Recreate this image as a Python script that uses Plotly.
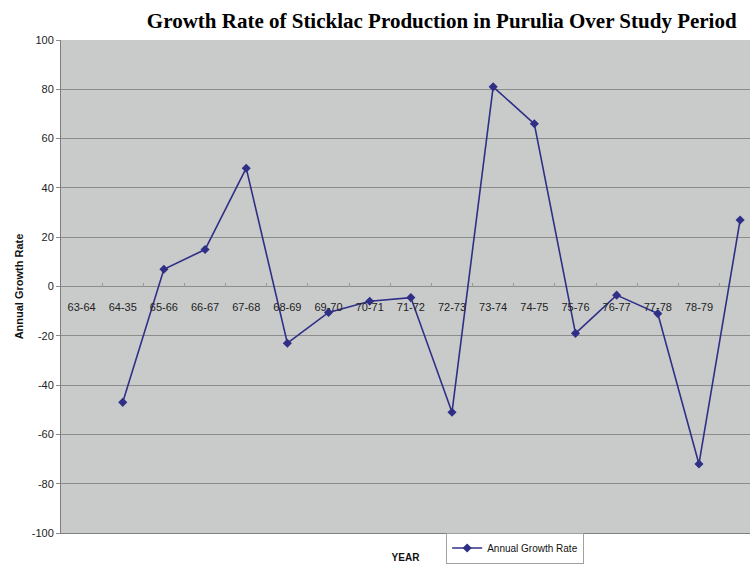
import plotly.graph_objects as go

# Financial years (category labels along the zero line)
years = ["63-64", "64-35", "65-66", "66-67", "67-68", "68-69", "69-70", "70-71",
         "71-72", "72-73", "73-74", "74-75", "75-76", "76-77", "77-78", "78-79", "79-80"]

# Annual growth rate of sticklac production (%); no rate for the base year
growth = [None, -47, 7, 15, 48, -23, -10.5, -6, -4.5, -51, 81, 66, -19, -3.5, -11, -72, 27]

y_ticks = [-100, -80, -60, -40, -20, 0, 20, 40, 60, 80, 100]
y_tick_text = ["-100", "-80", "-60", "-40", "-20", "0", "20", "40", "60", "80", "100"]

idx = list(range(len(years)))
x_range = [-0.5, len(years) - 0.76]
line_color = "#2f2f86"
font_sans = "Liberation Sans, Arial, sans-serif"

fig = go.Figure()
fig.add_trace(go.Scatter(
    x=idx, y=growth, mode="lines+markers", name="Annual Growth Rate",
    connectgaps=False,
    line=dict(color=line_color, width=1.6),
    marker=dict(symbol="diamond", size=7, color=line_color),
))

fig.update_layout(
    width=750, height=567,
    margin=dict(l=61, r=0, t=40, b=34, autoexpand=False),
    paper_bgcolor="white",
    plot_bgcolor="#c9cbcb",
    title=dict(
        text="<b>Growth Rate of Sticklac Production in Purulia Over Study Period</b>",
        x=0.589, xanchor="center", xref="container",
        y=0.963, yanchor="middle", yref="container",
        font=dict(family="Liberation Serif, Times New Roman, serif", size=21, color="black"),
    ),
    xaxis=dict(
        range=x_range, showticklabels=False, ticks="", showgrid=False,
        zeroline=False, showline=True, linecolor="#7f7f7f", linewidth=1,
        title=dict(text="<b>YEAR</b>", standoff=20,
                   font=dict(family=font_sans, size=10, color="#111")),
    ),
    xaxis2=dict(
        overlaying="x", anchor="free", position=0.5, side="bottom",
        range=x_range, tickmode="array", tickvals=idx, ticktext=years,
        ticks="inside", ticklen=0, ticklabelstandoff=12,
        showgrid=False, zeroline=False, showline=False,
        tickfont=dict(family=font_sans, size=11, color="#222"),
        minor=dict(tickmode="array", tickvals=[i + 0.5 for i in idx[:-1]] + [-0.5],
                   ticks="inside", ticklen=4, tickcolor="#9a9a9a"),
    ),
    yaxis=dict(
        range=[-100, 100], tickmode="array", tickvals=y_ticks, ticktext=y_tick_text,
        showgrid=True, gridcolor="#8c8c8c", gridwidth=1,
        zeroline=False, showline=True, linecolor="#7f7f7f", linewidth=1,
        ticks="outside", ticklen=4, tickcolor="#8c8c8c",
        tickfont=dict(family=font_sans, size=11, color="#222"),
        title=dict(text="<b>Annual Growth Rate</b>", standoff=5,
                   font=dict(family=font_sans, size=11, color="#111")),
    ),
    showlegend=True,
    legend=dict(
        orientation="h", x=0.559, xanchor="left", y=-0.062, yanchor="bottom",
        bgcolor="white", bordercolor="#a0a0a0", borderwidth=1,
        font=dict(family=font_sans, size=10, color="#111"),
    ),
)

# Empty trace that binds the zero-line category labels to the second x axis
fig.add_trace(go.Scatter(x=[None], y=[None], xaxis="x2", showlegend=False, hoverinfo="skip"))

fig.write_html("out.html")
